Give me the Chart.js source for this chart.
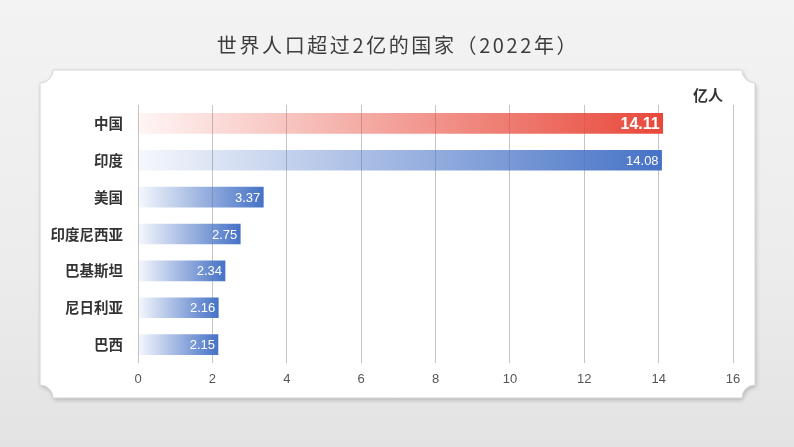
<!DOCTYPE html>
<html>
<head>
<meta charset="utf-8">
<script src="https://cdn.jsdelivr.net/npm/chart.js@4.4.0/dist/chart.umd.min.js"></script>
<style>
  html, body { margin: 0; padding: 0; }
  body { width: 794px; height: 447px; background: linear-gradient(#f3f3f3, #ececec 60%, #e3e3e3); overflow: hidden; }
  #wrap { position: absolute; left: 0; top: 0; width: 794px; height: 447px; }
</style>
</head>
<body>
<div id="wrap"><canvas id="chart"></canvas></div>
<script>
// 世界人口超过2亿的国家（2022年），单位：亿人
const countries = ['中国', '印度', '美国', '印度尼西亚', '巴基斯坦', '尼日利亚', '巴西'];
const population = [14.11, 14.08, 3.37, 2.75, 2.34, 2.16, 2.15];
const xTicks = [0, 2, 4, 6, 8, 10, 12, 14, 16];
const titleText = '世界人口超过2亿的国家（2022年）';
const unitText = '亿人';

const RED = [232, 72, 58];
const BLUE = [70, 114, 198];

function rgba(c, a) { return `rgba(${c[0]},${c[1]},${c[2]},${a})`; }

function barFill(ctx) {
    const chart = ctx.chart;
    if (!chart.chartArea || ctx.raw == null) return rgba(BLUE, 1);
    const c = ctx.dataIndex === 0 ? RED : BLUE;
    const x0 = chart.scales.x.getPixelForValue(0);
    const x1 = chart.scales.x.getPixelForValue(ctx.raw);
    const g = chart.ctx.createLinearGradient(x0, 0, x1, 0);
    g.addColorStop(0, rgba(c, 0.05));
    g.addColorStop(1, rgba(c, 1));
    return g;
}

// card with notched corners + title + unit
const backdrop = {
    id: 'backdrop',
    beforeDraw(chart) {
        const ctx = chart.ctx;
        const L = 40, T = 70, R = 755, B = 398, r = 13;
        ctx.save();
        ctx.beginPath();
        ctx.moveTo(L + r, T);
        ctx.lineTo(R - r, T);
        ctx.arc(R, T, r, Math.PI, Math.PI / 2, true);
        ctx.lineTo(R, B - r);
        ctx.arc(R, B, r, Math.PI * 1.5, Math.PI, true);
        ctx.lineTo(L + r, B);
        ctx.arc(L, B, r, 0, -Math.PI / 2, true);
        ctx.lineTo(L, T + r);
        ctx.arc(L, T, r, Math.PI / 2, 0, true);
        ctx.closePath();
        ctx.shadowColor = 'rgba(0,0,0,0.22)';
        ctx.shadowBlur = 4;
        ctx.shadowOffsetX = 1;
        ctx.shadowOffsetY = 2;
        ctx.fillStyle = '#ffffff';
        ctx.fill();
        ctx.shadowColor = 'transparent';
        ctx.strokeStyle = '#d6d6d6';
        ctx.lineWidth = 1;
        ctx.stroke();

        ctx.fillStyle = '#3c3c3c';
        ctx.font = '20px "Noto Sans CJK SC", sans-serif';
        ctx.letterSpacing = '2.6px';
        ctx.textAlign = 'center';
        ctx.textBaseline = 'middle';
        ctx.fillText(titleText, 398, 45);
        ctx.letterSpacing = '0px';

        ctx.fillStyle = '#333';
        ctx.font = 'bold 15px "Noto Sans CJK SC", sans-serif';
        ctx.fillText(unitText, 708, 95);
        ctx.restore();
    }
};

const valueLabels = {
    id: 'valueLabels',
    afterDatasetsDraw(chart) {
        const ctx = chart.ctx;
        const meta = chart.getDatasetMeta(0);
        ctx.save();
        ctx.fillStyle = '#ffffff';
        ctx.textAlign = 'right';
        ctx.textBaseline = 'middle';
        meta.data.forEach((bar, i) => {
            ctx.font = i === 0 ? 'bold 16px "Liberation Sans", Arial, sans-serif'
                               : '13px "Liberation Sans", Arial, sans-serif';
            ctx.fillText(population[i].toFixed(2), bar.x - 3, bar.y + 1);
        });
        ctx.restore();
    }
};

new Chart(document.getElementById('chart'), {
    type: 'bar',
    data: {
        labels: countries,
        datasets: [{
            data: population,
            backgroundColor: barFill,
            barThickness: 20,
            borderWidth: 0,
        }],
    },
    options: {
        indexAxis: 'y',
        responsive: true,
        maintainAspectRatio: false,
        animation: false,
        layout: { padding: { top: 105, right: 61, left: 0, bottom: 0 } },
        plugins: {
            legend: { display: false },
            tooltip: { enabled: false },
        },
        scales: {
            x: {
                min: 0,
                max: 16,
                afterBuildTicks: s => { s.ticks = xTicks.map(v => ({ value: v })); },
                afterFit: s => { s.height = 84; },
                grid: { color: '#c4c4c4', drawTicks: false },
                border: { display: false },
                ticks: {
                    padding: 9,
                    color: '#555',
                    font: { family: '"Liberation Sans", Arial, sans-serif', size: 13 },
                },
            },
            y: {
                afterFit: s => { s.width = 138; },
                grid: { display: false },
                border: { display: false },
                ticks: {
                    padding: 7,
                    color: '#333',
                    font: { family: '"Noto Sans CJK SC", sans-serif', size: 14.5, weight: 'bold' },
                },
            },
        },
    },
    plugins: [backdrop, valueLabels],
});
</script>
</body>
</html>
